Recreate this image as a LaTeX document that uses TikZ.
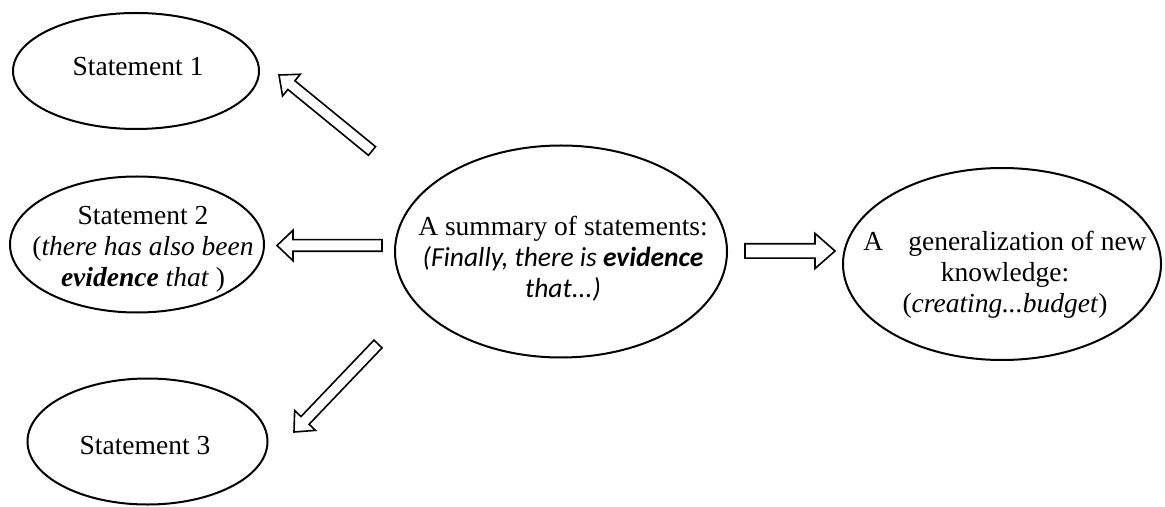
\documentclass[tikz,border=0pt]{standalone}
\usepackage{fontspec}
\setmainfont{Liberation Serif}[
  UprightFont={Liberation Serif},
  BoldFont={Liberation Serif Bold},
  ItalicFont={Liberation Serif Italic},
  BoldItalicFont={Liberation Serif Bold Italic}]
\newfontfamily\calib{Carlito}
\usetikzlibrary{shapes.geometric,calc}
\tikzset{
  ell/.style={draw=black, line width=1pt, ellipse, inner sep=0pt},
  txt/.style={align=center, inner sep=0pt, font=\fontsize{13.75}{15.5}\selectfont},
  arrowline/.style={draw=black, line width=0.8pt, fill=white, line join=miter},
}
\newcommand\blockarrow[5]{%
  \coordinate (#1-#2-h) at ($(#2)!#5!(#1)$);
  \draw[arrowline] ($(#1)!#3!90:(#2)$) -- ($(#1-#2-h)!#3!-90:(#1)$) -- ($(#1-#2-h)!#4!-90:(#1)$) -- (#2)
    -- ($(#1-#2-h)!#4!90:(#1)$) -- ($(#1-#2-h)!#3!90:(#1)$) -- ($(#1)!#3!-90:(#2)$) -- cycle;
}
\begin{document}
\begin{tikzpicture}[x=0.5pt, y=-0.5pt]
\useasboundingbox (0,0) rectangle (1165,507);
% ellipses
\node[ell, minimum width=123pt, minimum height=58pt] (e1) at (136,71) {};
\node[ell, minimum width=127pt, minimum height=68pt] (e2) at (137,244.5) {};
\node[ell, minimum width=120pt, minimum height=63pt] (e3) at (147.5,441.5) {};
\node[ell, minimum width=166pt, minimum height=106pt] (e4) at (561,251.5) {};
\node[ell, minimum width=159pt, minimum height=96pt] (e5) at (1002,264) {};
% texts
\node[txt] (t1) at (138,67) {Statement 1};
\node[txt] (t2) at (143,249) {Statement 2\\(\textit{there has also been}\\\textbf{\textit{evidence}} \textit{that} )};
\node[txt] (t3) at (145,446) {Statement 3};
\node[txt] (t4) at (563,259) {A summary of statements:\\{\calib\itshape (Finally, there is \textbf{evidence}}\\{\calib\itshape that...)}};
\node[txt] (t5) at (1005,275) {A\hspace{12.5pt}generalization of new\\knowledge:\\(\textit{creating...budget})};
% arrow end points
\coordinate (a1s) at (372,151);
\coordinate (a1e) at (279,75);
\coordinate (a2s) at (382,245.5);
\coordinate (a2e) at (277,245.5);
\coordinate (a3s) at (378,344);
\coordinate (a3e) at (294,432);
\coordinate (a4s) at (745,251);
\coordinate (a4e) at (835,251);
\blockarrow{a1s}{a1e}{2.8pt}{7pt}{8pt}
\blockarrow{a2s}{a2e}{2.9pt}{7.6pt}{8pt}
\blockarrow{a3s}{a3e}{2.8pt}{7.2pt}{8pt}
\blockarrow{a4s}{a4e}{3.6pt}{8.8pt}{10pt}
\end{tikzpicture}
\end{document}
